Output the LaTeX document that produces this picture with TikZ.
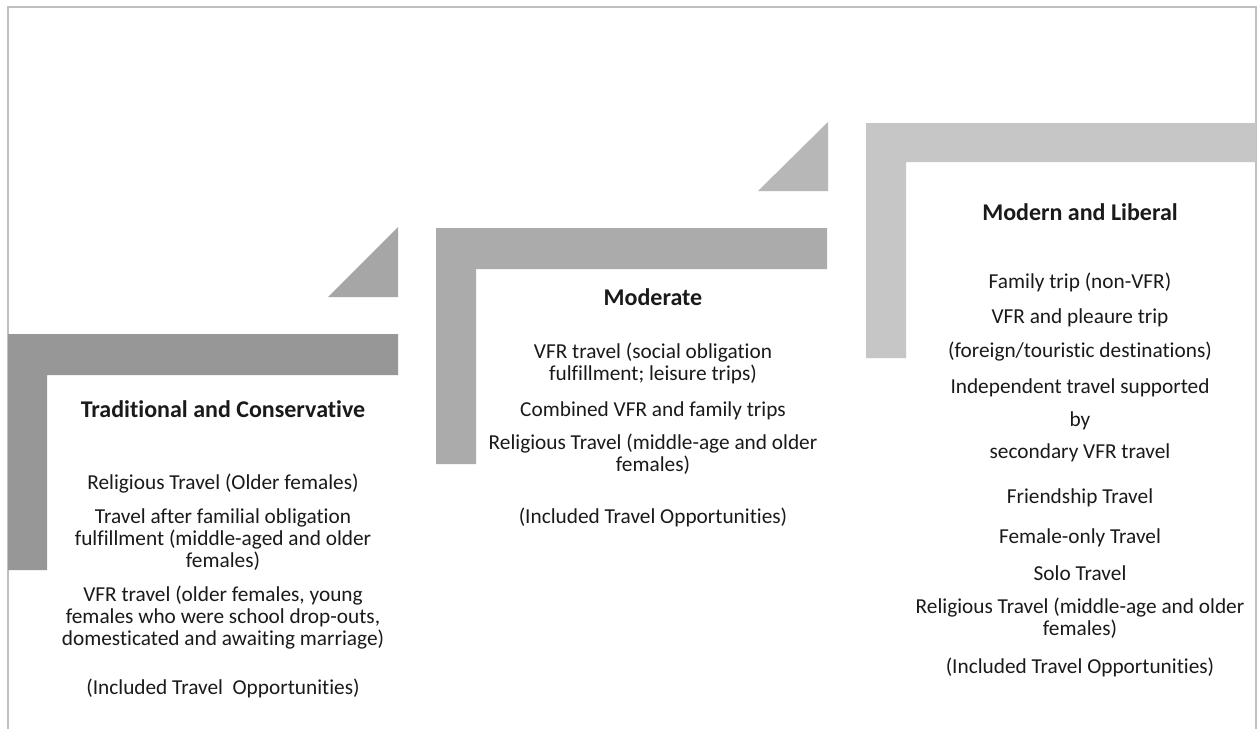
\documentclass[tikz,border=0pt]{standalone}
\usepackage{fontspec}
\setmainfont[Ligatures={NoCommon}]{Carlito}
\definecolor{frameline}{HTML}{C0C0C0}
\definecolor{stepA}{HTML}{979797}
\definecolor{wedgeA}{HTML}{A6A6A6}
\definecolor{stepB}{HTML}{ABABAB}
\definecolor{wedgeB}{HTML}{B7B7B7}
\definecolor{stepC}{HTML}{C6C6C6}
\definecolor{ink}{HTML}{1A1A1A}
\begin{document}
\begin{tikzpicture}[x=1pt,y=-1pt,
  txt/.style={anchor=base,inner sep=0pt,text=ink,font=\fontsize{21.3}{25}\selectfont},
  ttl/.style={anchor=base,inner sep=0pt,text=ink,font=\fontsize{24}{28}\selectfont\bfseries}]
\useasboundingbox (0,0) rectangle (1258,729);
\fill[white] (0,0) rectangle (1258,729);
% outer frame (open at the bottom)
\draw[frameline,line width=1.6pt] (8,729) -- (8,7) -- (1256,7) -- (1256,729);

% step 1: traditional
\fill[stepA] (8,334) -- (398,334) -- (398,375) -- (47,375) -- (47,570) -- (8,570) -- cycle;
\fill[wedgeA] (328,297) -- (398,297) -- (398,227) -- cycle;
% step 2: moderate
\fill[stepB] (436,228) -- (827,228) -- (827,269) -- (476,269) -- (476,464) -- (436,464) -- cycle;
\fill[wedgeB] (758,191) -- (828,191) -- (828,122) -- cycle;
% step 3: modern
\fill[stepC] (866,123) -- (1256,123) -- (1256,162) -- (906,162) -- (906,358) -- (866,358) -- cycle;

% texts of step 1
\node[ttl] (a0) at (223,417) {Traditional and Conservative};
\node[txt] (a1) at (223,489) {Religious Travel (Older females)};
\node[txt] (a2) at (223,523) {Travel after familial obligation};
\node[txt] (a3) at (223,545) {fulfillment (middle-aged and older};
\node[txt] (a4) at (223,567) {females)};
\node[txt] (a5) at (223,601) {VFR travel (older females, young};
\node[txt] (a6) at (223,623) {females who were school drop-outs,};
\node[txt] (a7) at (223,645) {domesticated and awaiting marriage)};
\node[txt] (a8) at (223,694) {(Included Travel\ \ Opportunities)};

% texts of step 2
\node[ttl] (b0) at (653,305) {Moderate};
\node[txt] (b1) at (653,358) {VFR travel (social obligation};
\node[txt] (b2) at (653,380) {fulfillment; leisure trips)};
\node[txt] (b3) at (653,416) {Combined VFR and family trips};
\node[txt] (b4) at (653,449) {Religious Travel (middle-age and older};
\node[txt] (b5) at (653,471) {females)};
\node[txt] (b6) at (653,523) {(Included Travel Opportunities)};

% texts of step 3
\node[ttl] (c0) at (1080,220) {Modern and Liberal};
\node[txt] (c1) at (1080,288) {Family trip (non-VFR)};
\node[txt] (c2) at (1080,323) {VFR and pleaure trip};
\node[txt] (c3) at (1080,357) {(foreign/touristic destinations)};
\node[txt] (c4) at (1080,393) {Independent travel supported};
\node[txt] (c5) at (1080,426) {by};
\node[txt] (c6) at (1080,458) {secondary VFR travel};
\node[txt] (c7) at (1080,503) {Friendship Travel};
\node[txt] (c8) at (1080,543) {Female-only Travel};
\node[txt] (c9) at (1080,580) {Solo Travel};
\node[txt] (c10) at (1080,613) {Religious Travel (middle-age and older};
\node[txt] (c11) at (1080,635) {females)};
\node[txt] (c12) at (1080,673) {(Included Travel Opportunities)};
\end{tikzpicture}
\end{document}
